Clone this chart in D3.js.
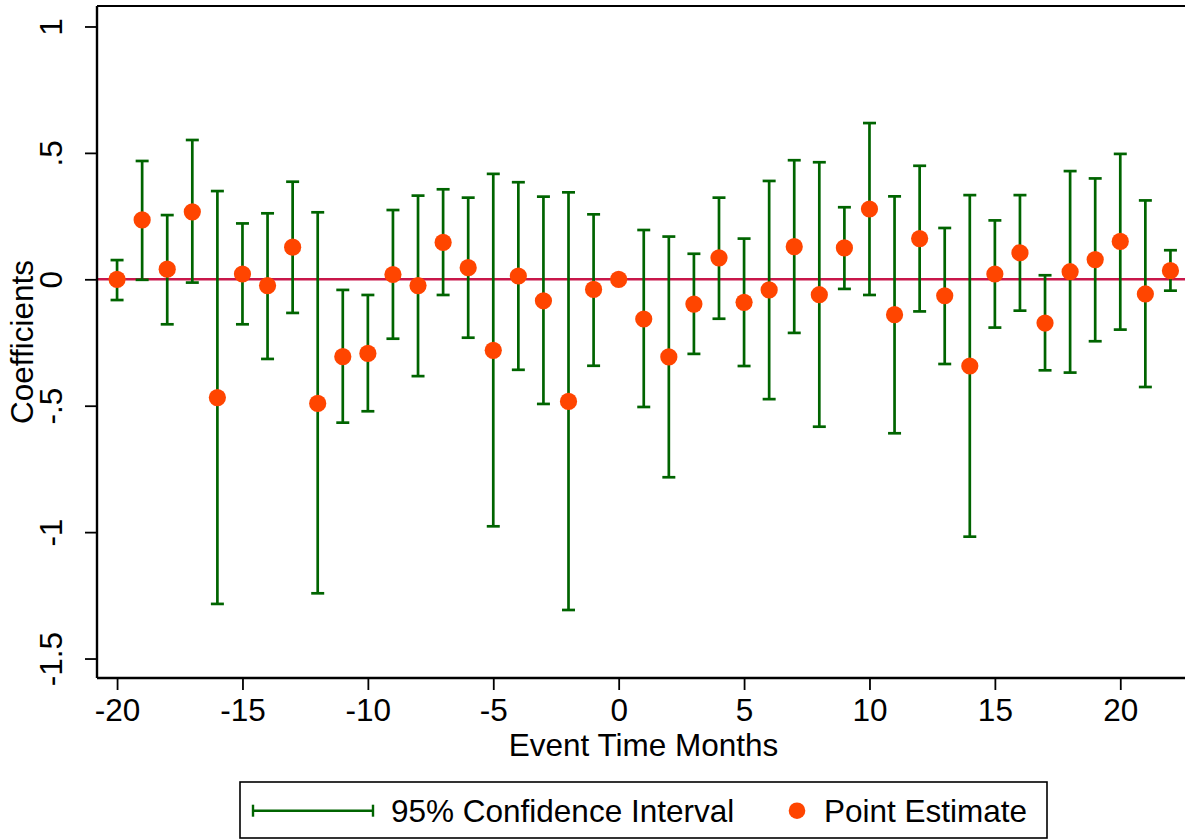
<!DOCTYPE html>
<html>
<head>
<meta charset="utf-8">
<script src="https://cdn.jsdelivr.net/npm/d3@7"></script>
<style>
  html, body { margin: 0; padding: 0; background: #fff; }
  svg { display: block; }
  text { font-family: "Liberation Sans", Arial, Helvetica, sans-serif; fill: #000; }
</style>
</head>
<body>
<svg id="chart" width="1185" height="840"></svg>
<script>
// Event time (months)
const months = [-20,-19,-18,-17,-16,-15,-14,-13,-12,-11,-10,-9,-8,-7,-6,-5,-4,-3,-2,-1,0,1,2,3,4,5,6,7,8,9,10,11,12,13,14,15,16,17,18,19,20,21,22];
// Point estimates
const estimates = [0.000,0.235,0.040,0.267,-0.468,0.021,-0.025,0.127,-0.491,-0.306,-0.293,0.019,-0.025,0.146,0.046,-0.281,0.013,-0.085,-0.483,-0.040,0.000,-0.157,-0.307,-0.098,0.085,-0.091,-0.042,0.129,-0.061,0.124,0.278,-0.140,0.161,-0.065,-0.343,0.021,0.105,-0.173,0.030,0.078,0.150,-0.058,0.034];
// 95% CI lower bounds (null where no interval drawn)
const ciLower = [-0.082,-0.002,-0.178,-0.013,-1.284,-0.178,-0.315,-0.133,-1.242,-0.567,-0.522,-0.235,-0.383,-0.062,-0.231,-0.977,-0.358,-0.493,-1.308,-0.342,null,-0.505,-0.783,-0.295,-0.156,-0.343,-0.474,-0.212,-0.583,-0.038,-0.062,-0.609,-0.127,-0.335,-1.018,-0.191,-0.124,-0.360,-0.369,-0.245,-0.199,-0.426,-0.045];
// 95% CI upper bounds
const ciUpper = [0.076,0.468,0.254,0.551,0.349,0.221,0.261,0.386,0.265,-0.042,-0.062,0.274,0.331,0.356,0.323,0.417,0.384,0.327,0.344,0.257,null,0.195,0.169,0.101,0.323,0.161,0.389,0.471,0.463,0.285,0.618,0.328,0.449,0.203,0.333,0.233,0.333,0.016,0.428,0.399,0.496,0.312,0.115];
// Tick labels
const xTicks = [-20,-15,-10,-5,0,5,10,15,20];
const xTickLabels = ["-20","-15","-10","-5","0","5","10","15","20"];
const yTicks = [1,0.5,0,-0.5,-1,-1.5];
const yTickLabels = ["1",".5","0","-.5","-1","-1.5"];
const legendLabels = ["95% Confidence Interval","Point Estimate"];

const data = months.map((m,i)=>({m, est: estimates[i], lo: ciLower[i], hi: ciUpper[i]}));

const svg = d3.select("#chart");
const pL = 97, pR = 1190, pT = 6, pB = 678;
const green = "#006400", orange = "#ff4500", zeroCol = "#c8164a";
const fs = 31.5;

const x = d3.scaleLinear().domain([-20.80, 22.78]).range([pL, pR]);
const y = d3.scaleLinear().domain([-1.577, 1.081]).range([pB, pT]);

// top frame
svg.append("line").attr("x1", pL).attr("x2", pR).attr("y1", pT).attr("y2", pT)
  .attr("stroke", "#000").attr("stroke-width", 2);

// zero line
svg.append("line").attr("x1", pL).attr("x2", pR).attr("y1", y(0)).attr("y2", y(0))
  .attr("stroke", zeroCol).attr("stroke-width", 2.6);

// CI bars
const ci = svg.append("g").attr("stroke", green).attr("stroke-width", 2.7).attr("fill", "none");
const ciData = data.filter(d => d.lo !== null);
ci.selectAll("line.v").data(ciData).join("line").attr("class","v")
  .attr("x1", d=>x(d.m)).attr("x2", d=>x(d.m)).attr("y1", d=>y(d.lo)).attr("y2", d=>y(d.hi));
ci.selectAll("line.capHi").data(ciData).join("line").attr("class","capHi")
  .attr("x1", d=>x(d.m)-6.5).attr("x2", d=>x(d.m)+6.5).attr("y1", d=>y(d.hi)).attr("y2", d=>y(d.hi));
ci.selectAll("line.capLo").data(ciData).join("line").attr("class","capLo")
  .attr("x1", d=>x(d.m)-6.5).attr("x2", d=>x(d.m)+6.5).attr("y1", d=>y(d.lo)).attr("y2", d=>y(d.lo));

// points
svg.append("g").selectAll("circle").data(data).join("circle")
  .attr("cx", d=>x(d.m)).attr("cy", d=>y(d.est)).attr("r", 8.6).attr("fill", orange);

// y axis
const yAxis = svg.append("g").attr("transform", `translate(${pL},0)`)
  .call(d3.axisLeft(y).tickValues(yTicks).tickSize(12).tickFormat((d,i)=>yTickLabels[i]));
yAxis.select(".domain").attr("stroke", "#000").attr("stroke-width", 2.4).attr("d", `M0,${pT}V${pB}`);
yAxis.selectAll(".tick line").attr("stroke", "#000").attr("stroke-width", 1.8);
yAxis.selectAll(".tick text")
  .attr("font-size", fs).attr("text-anchor", "middle")
  .attr("transform", "rotate(-90)").attr("x", 0).attr("y", -35).attr("dy", 0);

// x axis
const xAxis = svg.append("g").attr("transform", `translate(0,${pB})`)
  .call(d3.axisBottom(x).tickValues(xTicks).tickSize(12).tickFormat((d,i)=>xTickLabels[i]));
xAxis.select(".domain").attr("stroke", "#000").attr("stroke-width", 2.4).attr("d", `M${pL},0H${pR}`);
xAxis.selectAll(".tick line").attr("stroke", "#000").attr("stroke-width", 1.8);
xAxis.selectAll(".tick text").attr("font-size", fs).attr("y", 42.5).attr("dy", 0);
svg.selectAll(".tick text").attr("font-family", "'Liberation Sans', Arial, sans-serif").attr("fill", "#000");

// axis titles
svg.append("text").attr("x", 643.5).attr("y", 755.5).attr("text-anchor", "middle")
  .attr("font-size", fs).text("Event Time Months");
svg.append("text").attr("transform", "translate(33,342) rotate(-90)").attr("text-anchor", "middle")
  .attr("font-size", fs).text("Coefficients");

// legend
const lg = svg.append("g");
lg.append("rect").attr("x", 240).attr("y", 782).attr("width", 807).attr("height", 56)
  .attr("fill", "#fff").attr("stroke", "#000").attr("stroke-width", 1.6);
const ly = 810.7;
lg.append("line").attr("x1", 253).attr("x2", 373).attr("y1", ly).attr("y2", ly).attr("stroke", green).attr("stroke-width", 2.4);
lg.append("line").attr("x1", 253).attr("x2", 253).attr("y1", ly-6).attr("y2", ly+6).attr("stroke", green).attr("stroke-width", 2.4);
lg.append("line").attr("x1", 373).attr("x2", 373).attr("y1", ly-6).attr("y2", ly+6).attr("stroke", green).attr("stroke-width", 2.4);
lg.append("text").attr("x", 391).attr("y", 821.5).attr("font-size", fs).text(legendLabels[0]);
lg.append("circle").attr("cx", 797).attr("cy", ly).attr("r", 8.3).attr("fill", orange);
lg.append("text").attr("x", 824).attr("y", 821.5).attr("font-size", fs).text(legendLabels[1]);
</script>
</body>
</html>
